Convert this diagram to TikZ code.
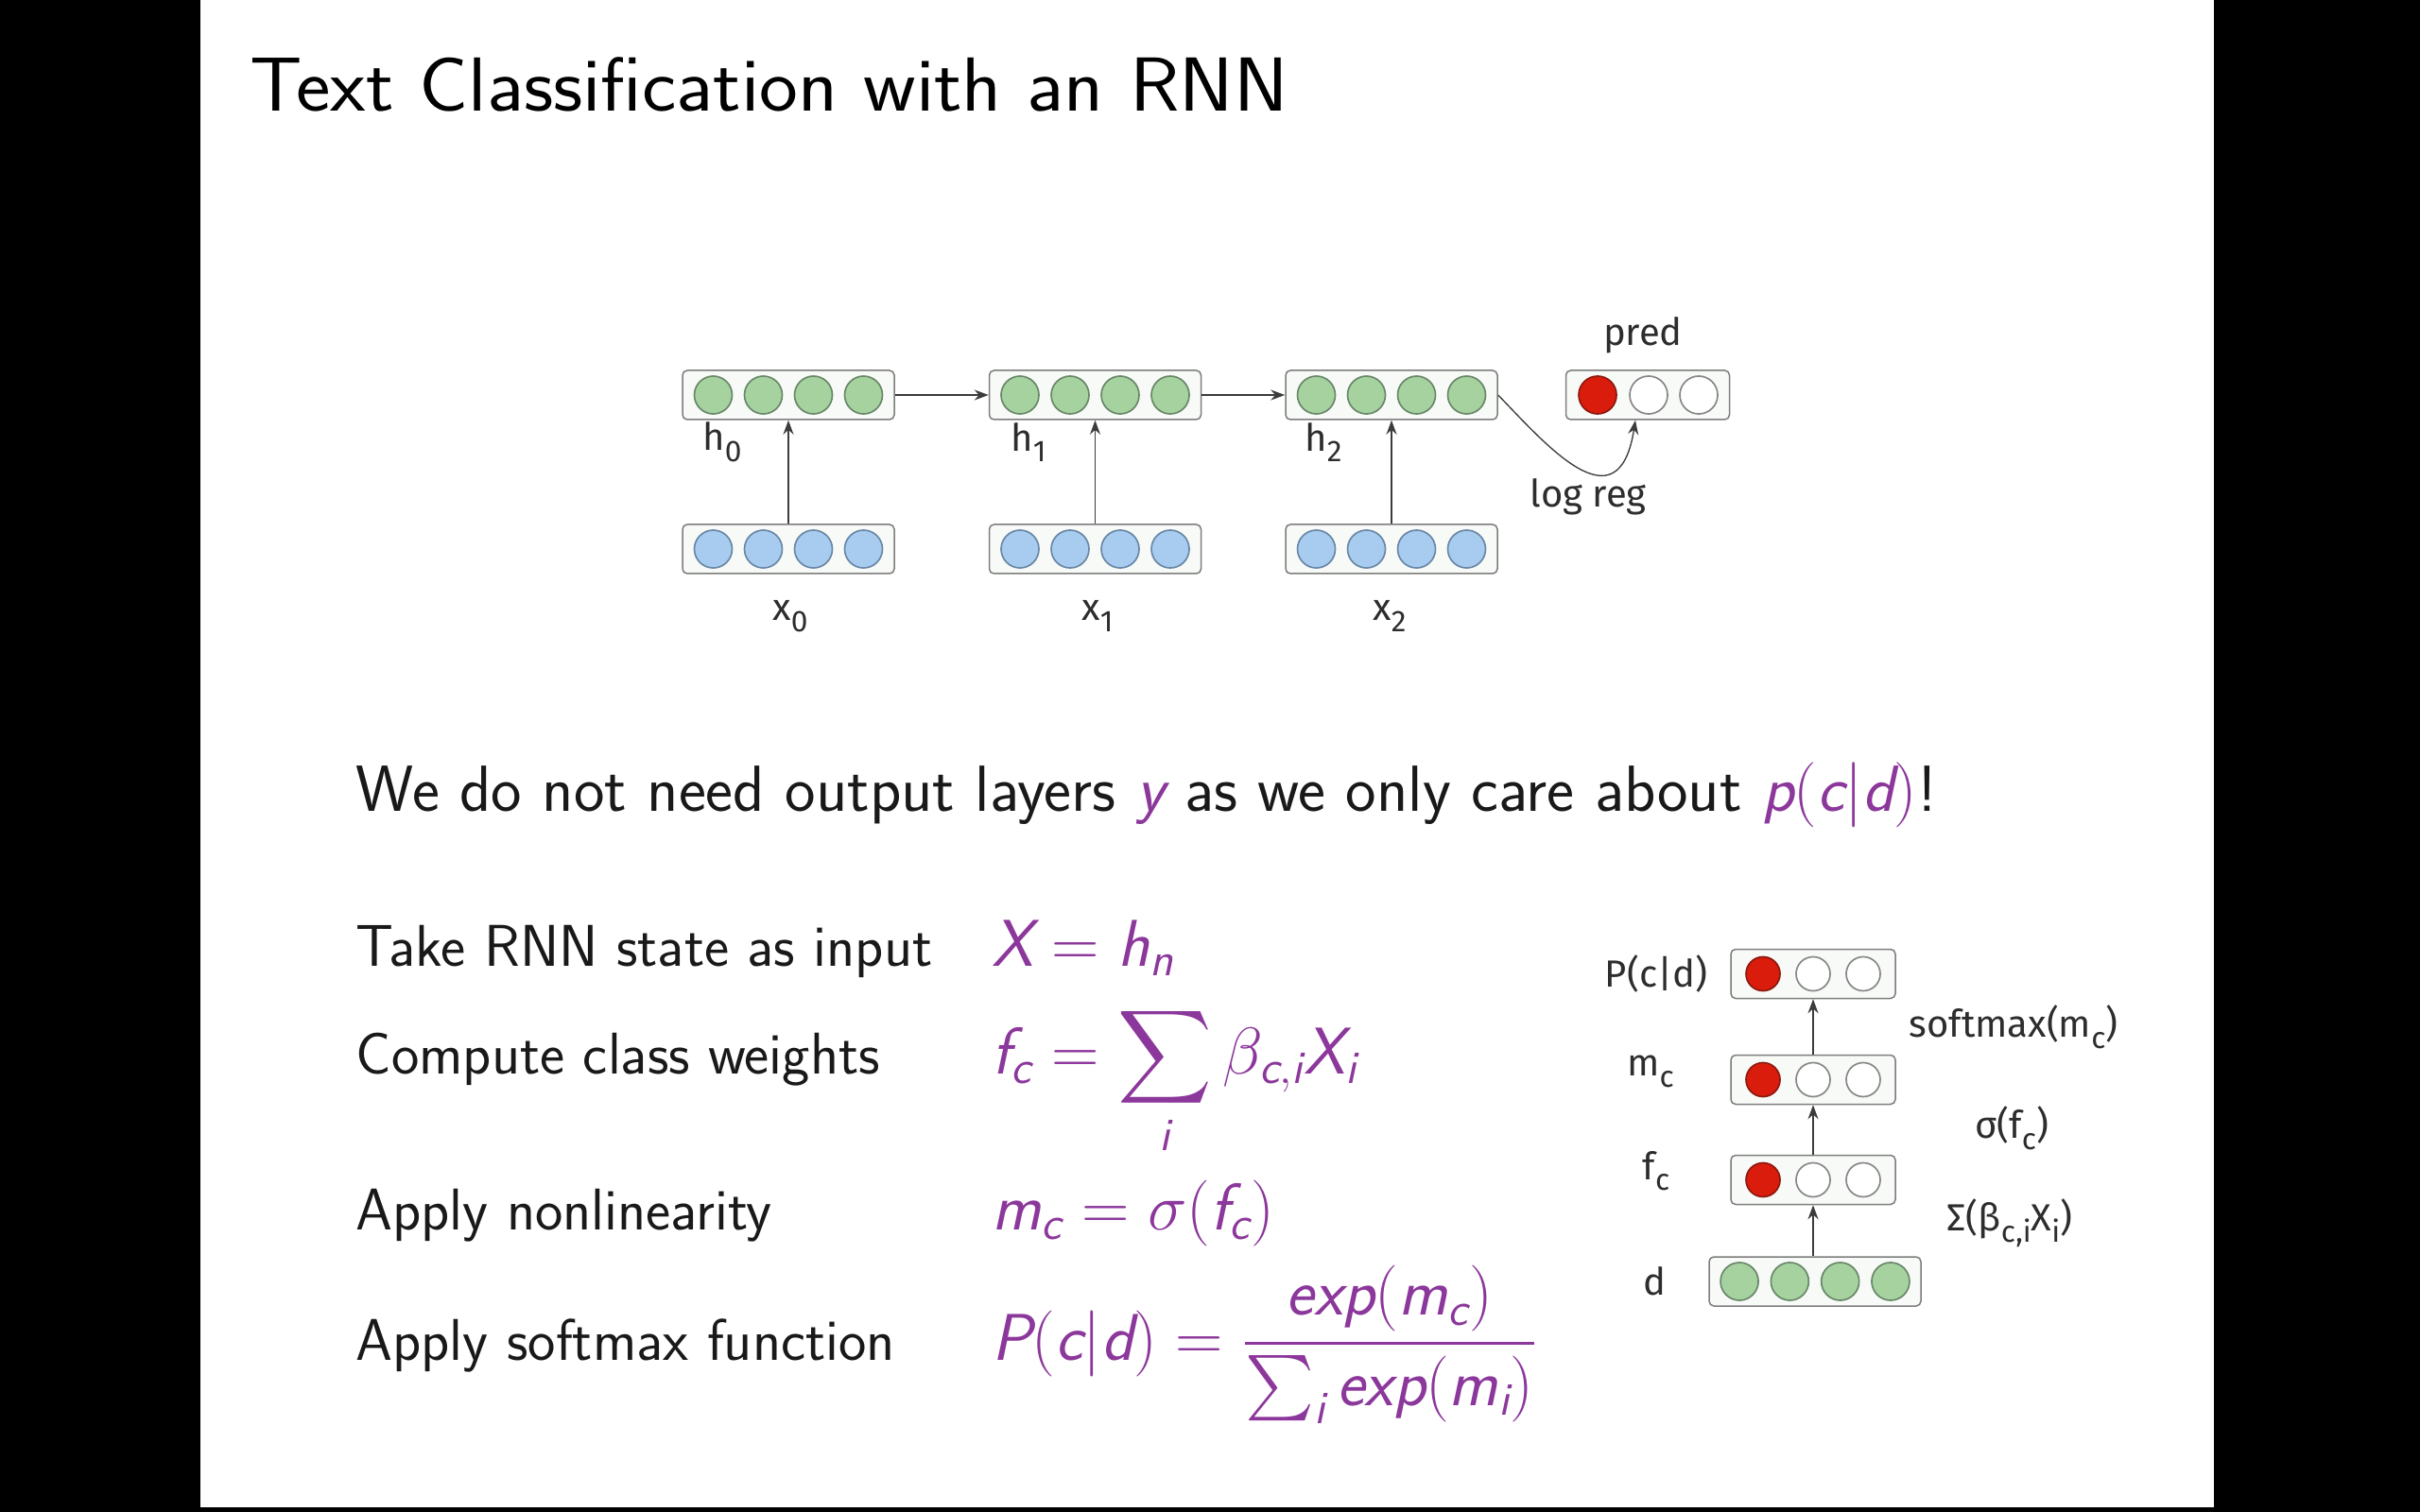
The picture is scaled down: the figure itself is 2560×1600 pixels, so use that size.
\RequirePackage{fix-cm}
\documentclass[tikz,border=0pt]{standalone}
\usepackage{amsmath}
\usepackage{graphicx}
\usepackage{fontspec}
\newfontfamily\dfont{Fira Sans}
\DeclareMathAlphabet{\ms}{TU}{lmss}{m}{sl}
\usetikzlibrary{arrows.meta}
\definecolor{mpurple}{RGB}{140,55,155}
\definecolor{boxgray}{RGB}{125,125,125}
\definecolor{boxfill}{RGB}{248,250,247}
\definecolor{gfill}{RGB}{166,210,160}
\definecolor{gstroke}{RGB}{105,135,105}
\definecolor{bfill}{RGB}{168,204,240}
\definecolor{bstroke}{RGB}{105,135,165}
\definecolor{rfill}{RGB}{218,28,12}
\definecolor{rstroke}{RGB}{140,25,15}
\definecolor{wstroke}{RGB}{135,135,135}
\definecolor{arrgray}{RGB}{60,60,60}
\definecolor{lblgray}{RGB}{45,45,45}
\definecolor{bodyc}{RGB}{25,25,25}
\newcommand{\sbs}[1]{\raisebox{-0.55ex}{\fontsize{9.5}{10}\selectfont #1}}
\tikzset{
 layer/.style={draw=boxgray, fill=boxfill, line width=0.45pt, rounded corners=1.5pt, minimum height=15.6pt, inner sep=0pt},
 wide/.style={layer, minimum width=67.2pt},
 narrow/.style={layer, minimum width=52.2pt},
 unit/.style={circle, inner sep=0pt, minimum size=12pt, line width=0.5pt},
 sunit/.style={circle, inner sep=0pt, minimum size=10.8pt, line width=0.5pt},
 gunit/.style={unit, draw=gstroke, fill=gfill},
 bunit/.style={unit, draw=bstroke, fill=bfill},
 runit/.style={unit, draw=rstroke, fill=rfill},
 wunit/.style={unit, draw=wstroke, fill=white},
 rsunit/.style={sunit, draw=rstroke, fill=rfill},
 wsunit/.style={sunit, draw=wstroke, fill=white},
 arr/.style={-{Stealth[length=4.5pt,width=3.3pt]}, line width=0.4pt, draw=arrgray},
 lbl/.style={font=\dfont\fontsize{12}{14}\selectfont, text=lblgray, inner sep=0pt},
 body/.style={font=\sffamily\fontsize{20.7}{25}\selectfont, text=bodyc, anchor=base west, inner sep=0pt},
 item/.style={font=\sffamily\fontsize{18.7}{22}\selectfont, text=bodyc, anchor=base west, inner sep=0pt},
 eq/.style={font=\sffamily\fontsize{21}{25}\selectfont, anchor=base west, inner sep=0pt, text=mpurple},
}
\begin{document}
\begin{tikzpicture}[x=0.3pt,y=-0.3pt]
\fill[black] (0,0) rectangle (2560,1600);
\fill[white] (212,0) rectangle (2342,1595);
\useasboundingbox (0,0) rectangle (2560,1600);

% title
\node[anchor=base west, inner sep=0pt, font=\sffamily\fontsize{24.3}{29}\selectfont] (title) at (264,118) {\scalebox{1.07}[1]{Text Classification with an RNN}};

% top RNN diagram
\foreach \b/\cx in {h0/834, h1/1158.5, h2/1472} {
  \node[wide] (\b) at (\cx,418) {};
  \foreach \k in {1,...,4} { \node[gunit] (\b-\k) at ({\cx+(\k-2.5)*53},418) {}; }
}
\foreach \b/\cx in {x0/834, x1/1158.5, x2/1472} {
  \node[wide] (\b) at (\cx,581) {};
  \foreach \k in {1,...,4} { \node[bunit] (\b-\k) at ({\cx+(\k-2.5)*53},581) {}; }
}
\node[narrow, minimum width=51.9pt] (pred) at (1743,418) {};
\node[runit] (pred-1) at (1690,418) {};
\node[wunit] (pred-2) at (1744,418) {};
\node[wunit] (pred-3) at (1797,418) {};

\draw[arr] (x0) -- (h0);
\draw[arr] (x1) -- (h1);
\draw[arr] (x2) -- (h2);
\draw[arr] (h0) -- (h1);
\draw[arr] (h1) -- (h2);
\draw[arr] (h2.east) .. controls (1635,470) and (1712,560) .. ([xshift=-3.9pt]pred.south);

\node[lbl] (lh0) at (764,468) {h\sbs{0}};
\node[lbl] (lh1) at (1088,468) {h\sbs{1}};
\node[lbl] (lh2) at (1400,468) {h\sbs{2}};
\node[lbl] (lx0) at (836,652) {x\sbs{0}};
\node[lbl] (lx1) at (1161,652) {x\sbs{1}};
\node[lbl] (lx2) at (1470,652) {x\sbs{2}};
\node[lbl] (lpred) at (1738,355) {pred};
\node[lbl] (llog) at (1680,526) {log reg};

% body text
\node[body] (t0) at (376,858) {We do not need output layers \textcolor{mpurple}{$\ms{y}$} as we only care about \textcolor{mpurple}{$\ms{p}(\ms{c}|\ms{d})$}!};
\node[item] (t1) at (376,1022) {Take RNN state as input};
\node[item] (t2) at (376,1136) {Compute class weights};
\node[item] (t3) at (376,1301) {Apply nonlinearity};
\node[item] (t4) at (376,1439) {Apply softmax function};
\node[eq] (e1) at (1049,1022) {$\ms{X} = \ms{h}_{\ms{n}}$};
\node[eq] (e2) at (1049,1136) {$\ms{f}_{\ms{c}} = \displaystyle\sum_{\ms{i}} \beta_{\ms{c},\ms{i}} \ms{X}_{\ms{i}}$};
\node[eq] (e3) at (1049,1301) {$\ms{m}_{\ms{c}} = \sigma(\ms{f}_{\ms{c}})$};
\node[eq] (e4) at (1049,1439) {$\ms{P}(\ms{c}|\ms{d}) = \dfrac{\ms{exp}(\ms{m}_{\ms{c}})}{\sum_{\ms{i}} \ms{exp}(\ms{m}_{\ms{i}})}$};

% right diagram
\foreach \b/\cy in {pc/1030.5, mc/1142.5, fc/1248.5} {
  \node[narrow] (\b) at (1918,\cy) {};
  \node[rsunit] (\b-1) at (1865,\cy) {};
  \node[wsunit] (\b-2) at (1918,\cy) {};
  \node[wsunit] (\b-3) at (1971,\cy) {};
}
\node[wide] (dd) at (1920,1356) {};
\foreach \k in {1,...,4} { \node[gunit] (dd-\k) at ({1920+(\k-2.5)*53.3},1356) {}; }

\draw[arr] (fc.south |- dd.north) -- (fc.south);
\draw[arr] (fc) -- (mc);
\draw[arr] (mc) -- (pc);

\node[lbl] (lpc) at (1752,1030) {P(c|d)};
\node[lbl] (lmc) at (1746,1134) {m\sbs{c}};
\node[lbl] (lfc) at (1752,1239) {f\sbs{c}};
\node[lbl] (ldd) at (1750,1356) {d};
\node[lbl] (lsm) at (2130,1087) {softmax(m\sbs{c})};
\node[lbl] (lsig) at (2128,1194) {σ(f\sbs{c})};
\node[lbl] (lsum) at (2126,1294) {Σ(β\sbs{c,i}X\sbs{i})};
\end{tikzpicture}
\end{document}
